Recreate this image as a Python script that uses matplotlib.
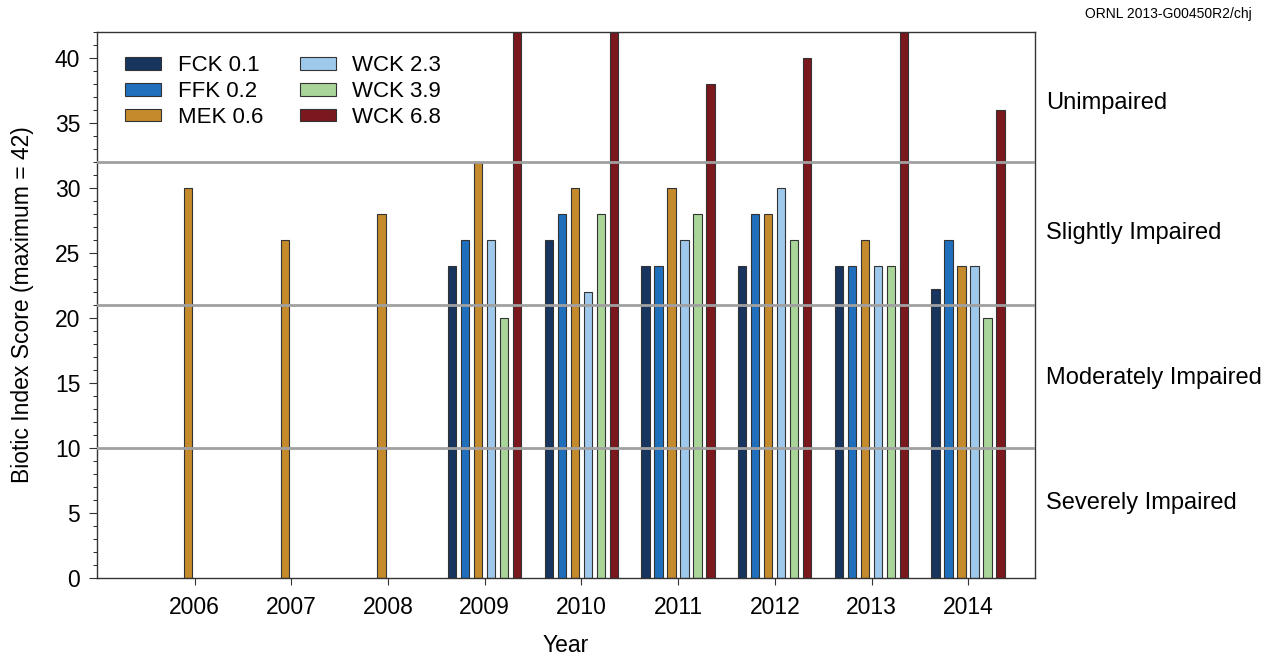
import matplotlib.pyplot as plt
from matplotlib.ticker import MultipleLocator
import numpy as np

plt.rcParams['font.family'] = ['Liberation Sans', 'DejaVu Sans']

years = [2006, 2007, 2008, 2009, 2010, 2011, 2012, 2013, 2014]
sites = ['FCK 0.1', 'FFK 0.2', 'MEK 0.6', 'WCK 2.3', 'WCK 3.9', 'WCK 6.8']
colors = ['#17355f', '#1f6fbd', '#c48a2c', '#9ec9ec', '#a9d599', '#7a181d']

# None = not sampled that year
fck = [None, None, None, 24, 26, 24, 24, 24, 22.2]
ffk = [None, None, None, 26, 28, 24, 28, 24, 26]
mek = [30, 26, 28, 32, 30, 30, 28, 26, 24]
wck23 = [None, None, None, 26, 22, 26, 30, 24, 24]
wck39 = [None, None, None, 20, 28, 28, 26, 24, 20]
wck68 = [None, None, None, 42, 42, 38, 40, 42, 36]
series = [fck, ffk, mek, wck23, wck39, wck68]

thresholds = [32, 21, 10]
classes = ['Unimpaired', 'Slightly Impaired', 'Moderately Impaired', 'Severely Impaired']
class_y = [36.5, 26.5, 15.4, 5.8]

fig = plt.figure(figsize=(12.64, 6.55), dpi=100)
ax = fig.add_axes([97 / 1264, 1 - 578 / 655, (1035 - 97) / 1264, (578 - 32) / 655])

step = 0.1345
width = 0.086
shift = -0.069
for k, (name, vals, c) in enumerate(zip(sites, series, colors)):
    xs = [y + shift + (k - 2) * step for y, v in zip(years, vals) if v is not None]
    hs = [v for v in vals if v is not None]
    ax.bar(xs, hs, width=width, color=c, edgecolor='#333333', linewidth=0.8,
           label=name, zorder=2)

for t in thresholds:
    ax.axhline(t, color='#a0a0a0', linewidth=2, zorder=3)

ax.set_xlim(2004.99, 2014.69)
ax.set_ylim(0, 42)
ax.set_xticks(years)
ax.yaxis.set_major_locator(MultipleLocator(5))
ax.yaxis.set_minor_locator(MultipleLocator(1))
ax.tick_params(axis='both', labelsize=16.5, direction='out', color='#333333')
ax.tick_params(axis='y', which='major', length=6, pad=6)
ax.tick_params(axis='y', which='minor', length=3)
ax.tick_params(axis='x', length=5, pad=8)
for s in ax.spines.values():
    s.set_color('#333333')
    s.set_linewidth(1)

ax.set_xlabel('Year', fontsize=16.5)
ax.set_ylabel('Biotic Index Score (maximum = 42)', fontsize=16.5)
ax.yaxis.set_label_coords(-0.067, 0.5)
ax.xaxis.set_label_coords(0.5, -0.102)

for lab, yv in zip(classes, class_y):
    ax.text(1.012, yv / 42, lab, transform=ax.transAxes, fontsize=17,
            va='center', ha='left')

fig.text(1252 / 1264, 1 - 14 / 655, 'ORNL 2013-G00450R2/chj', fontsize=10,
         ha='right', va='center')

ax.legend(ncol=2, loc='upper left', frameon=False, fontsize=16,
          handlelength=1.6, handleheight=0.5, handletextpad=0.75,
          columnspacing=1.67, labelspacing=0.22, borderpad=0.4,
          bbox_to_anchor=(0.009, 0.994))

fig.savefig('out.png', dpi=100)
